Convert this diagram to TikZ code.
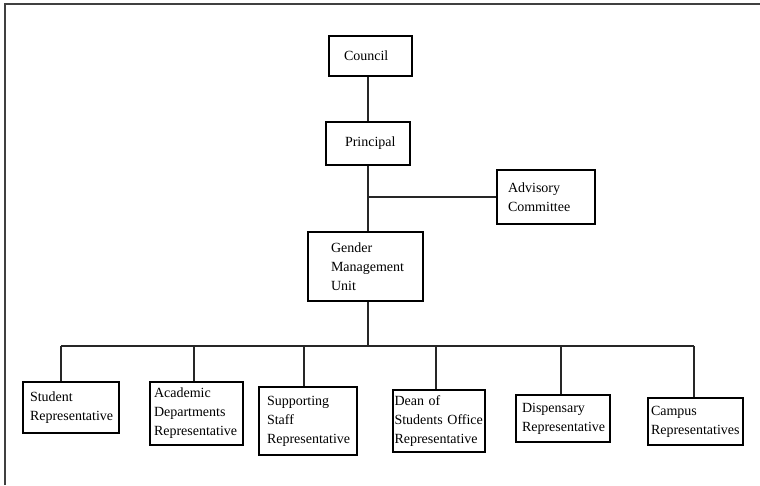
\documentclass[tikz,border=0pt]{standalone}
\usepackage{fontspec}
\setmainfont{Liberation Serif}
\usepackage{tikz}
\usetikzlibrary{positioning,calc}

\begin{document}
\begin{tikzpicture}[x=1pt, y=-1pt,
  every node/.style={font=\fontsize{14}{19}\selectfont},
  unit/.style={rectangle, draw=black, line width=1.6pt, align=left,
               inner ysep=2pt, minimum height=#1},
  link/.style={line width=1.5pt, black!85}
]
  \useasboundingbox (0,0) rectangle (760,485);
  % open frame
  \draw[line width=1.5pt, black!75] (5,485) -- (5,4) -- (760,4);

  % top of the chart
  \node[unit=40pt, inner xsep=15pt, text width=53pt] (council) at (370.5,56) {Council};
  \node[unit=43pt, inner xsep=19pt, text width=46pt] (principal) at (368,143.5) {Principal};
  \node[unit=54pt, inner xsep=11pt, text width=76pt] (advisory) at (546,197) {Advisory\\Committee};
  \node[unit=69pt, inner xsep=23pt, text width=69pt] (gmu) at (365.5,266.5) {Gender\\Management\\Unit};

  \draw[link] (council.south -| principal) -- (principal.north);
  \draw[link] (principal.south) -- (principal.south |- gmu.north);
  \coordinate (split) at (principal.south |- advisory.west);
  \draw[link] (split) -- (advisory.west);

  % representatives
  \coordinate (bus) at (368,346);
  \foreach \name/\cx/\cy/\w/\h/\p/\dx/\txt in {
      student/71/407.5/96/51/7/61/{Student\\Representative},
      academic/196.5/413.5/93/63/4/194/{Academic\\Departments\\Representative},
      staff/308/421/98/68/8/304/{Supporting\\Staff\\Representative},
      dean/439/421/92/62/1.5/436/{Dean of\\Students Office\\Representative},
      dispensary/563/418.5/94/47/6/561/{Dispensary\\Representative},
      campus/695.5/421.5/95/47/3/694/{Campus\\Representatives}} {
    \node[unit=\h pt, inner xsep=\p pt, text width=\w pt-2*\p pt] (\name) at (\cx,\cy) {\txt};
    \coordinate (b-\name) at (\dx,346);
    \draw[link] (b-\name) -- (b-\name |- \name.north);
  }
  \draw[link] (principal.south |- gmu.south) -- (bus);
  \draw[link] (b-student) -- (b-campus);
\end{tikzpicture}
\end{document}
